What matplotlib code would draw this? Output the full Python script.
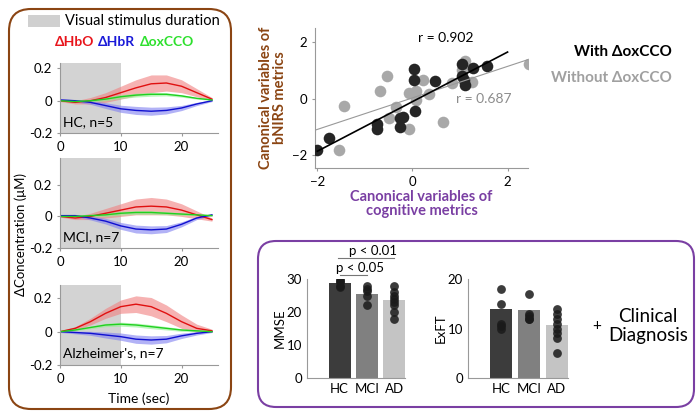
import matplotlib
matplotlib.use('Agg')
import matplotlib.pyplot as plt
import numpy as np
from matplotlib.patches import FancyBboxPatch, Rectangle

plt.rcParams['font.family'] = ['Lato', 'DejaVu Sans']
plt.rcParams['font.size'] = 8

W, H = 700, 420
BROWN = '#8B4513'
PURPLE = '#7A3FA3'

# ---- hemodynamic responses (sampled every 2.5 s) ----
t = [0, 2.5, 5, 7.5, 10, 12.5, 15, 17.5, 20, 22.5, 25]
hc_hbo = [0, -0.01, 0, 0.02, 0.05, 0.08, 0.105, 0.11, 0.09, 0.05, 0.01]
hc_hbr = [0.005, 0, -0.01, -0.03, -0.05, -0.06, -0.065, -0.06, -0.045, -0.02, 0]
hc_cco = [0, -0.005, 0, 0.01, 0.025, 0.035, 0.04, 0.04, 0.03, 0.015, 0.005]
mci_hbo = [0, -0.01, 0, 0.02, 0.04, 0.06, 0.065, 0.06, 0.04, 0.01, -0.02]
mci_hbr = [0.005, 0.005, -0.01, -0.03, -0.06, -0.08, -0.085, -0.08, -0.05, -0.01, 0.01]
mci_cco = [0, 0, 0.005, 0.01, 0.02, 0.025, 0.025, 0.02, 0.015, 0.01, 0.005]
ad_hbo = [0, 0.02, 0.06, 0.11, 0.15, 0.165, 0.15, 0.11, 0.06, 0.02, 0.005]
ad_hbr = [0, -0.005, -0.01, -0.02, -0.03, -0.045, -0.05, -0.045, -0.025, -0.01, 0]
ad_cco = [0, 0.01, 0.025, 0.04, 0.045, 0.04, 0.03, 0.02, 0.01, 0.005, 0]
sem_hbo = [0.005, 0.01, 0.02, 0.03, 0.04, 0.05, 0.055, 0.05, 0.04, 0.025, 0.01]
sem_hbr = [0.005, 0.008, 0.012, 0.018, 0.022, 0.025, 0.025, 0.022, 0.016, 0.01, 0.005]
sem_cco = [0.003, 0.005, 0.008, 0.01, 0.012, 0.012, 0.012, 0.01, 0.008, 0.005, 0.003]
groups = ['HC, n=5', 'MCI, n=7', "Alzheimer's, n=7"]
stim_end = 10

# ---- canonical correlation scatter ----
with_x = [-2, -1.75, -0.74, -0.74, -0.26, -0.26, -0.2, 0.04, 0.04, 0.05, 0.48, 1.05, 1.05, 1.09, 1.1, 1.28, 1.56]
with_y = [-1.82, -1.38, -0.88, -1.06, -1.0, -0.67, -0.65, 1.06, 0.65, -0.44, 0.62, 1.21, 0.82, 0.65, 0.47, 1.09, 1.14]
without_x = [-1.54, -1.45, -0.53, -0.68, -0.5, -0.35, -0.07, -0.07, 0.07, 0.07, 0.23, 0.34, 0.65, 0.84, 1.1, 1.25, 2.46, 1.05]
without_y = [-1.8, -0.27, 0.79, 0.29, -0.68, -0.29, -1.08, 0.2, 0.29, -0.06, 0.67, 0.18, -0.82, 0.55, 1.35, 0.59, 1.21, 1.0]

# ---- clinical scores ----
cats = ['HC', 'MCI', 'AD']
mmse_mean = [28.8, 25.5, 23.7]
mmse_pts = [[30, 29.5, 29, 28, 27.5], [28, 27, 26.5, 25, 22], [28, 26, 25, 24, 23, 22, 20, 18]]
exft_mean = [13.9, 13.8, 10.8]
exft_pts = [[18, 15, 11, 10.5, 10], [17, 13, 12.5, 12, 12], [14, 13, 12, 11, 10, 9, 8, 5]]
bar_colors = ['#3c3c3c', '#808080', '#c4c4c4']

fig = plt.figure(figsize=(7, 4.2), dpi=100)


def ax_px(l, t_, r, b):
    return fig.add_axes([l / W, 1 - b / H, (r - l) / W, (b - t_) / H])


# overlay for boxes and labels
ov = fig.add_axes([0, 0, 1, 1], zorder=-1)
ov.set_xlim(0, W)
ov.set_ylim(H, 0)
ov.axis('off')
ov.add_patch(FancyBboxPatch((9, 9), 222, 400, boxstyle='round,pad=0,rounding_size=22',
                            fc='white', ec=BROWN, lw=1.5))
ov.add_patch(FancyBboxPatch((258, 241), 436, 166, boxstyle='round,pad=0,rounding_size=18',
                            fc='white', ec=PURPLE, lw=1.5))
ov.add_patch(Rectangle((28, 15), 32, 12, fc='#d0d0d0', ec='none'))
ov.text(65, 21, 'Visual stimulus duration', fontsize=10.5, va='center')
ov.text(55, 42, 'ΔHbO', color='#e8141b', fontsize=10, fontweight='bold', va='center')
ov.text(98, 42, 'ΔHbR', color='#1a1ad8', fontsize=10, fontweight='bold', va='center')
ov.text(140, 42, 'ΔoxCCO', color='#2ee02e', fontsize=10, fontweight='bold', va='center')
ov.text(21, 235, 'ΔConcentration (μM)', rotation=90, fontsize=9.5, ha='center', va='center')
ov.text(139, 399, 'Time (sec)', fontsize=10, ha='center', va='center')

panels = [(63, 133, 0.234, hc_hbo, hc_hbr, hc_cco),
          (158, 248, 0.37, mci_hbo, mci_hbr, mci_cco),
          (285, 365, 0.28, ad_hbo, ad_hbr, ad_cco)]
for (top, bot, ytop, hbo, hbr, cco), name in zip(panels, groups):
    ax = ax_px(60, top, 218, bot)
    ax.axvspan(0, stim_end, color='#d3d3d3', lw=0)
    for m, s, c, fc in [(hbo, sem_hbo, '#e01010', '#f08080'),
                        (hbr, sem_hbr, '#1010d0', '#8080f0'),
                        (cco, sem_cco, '#20d020', '#90f090')]:
        m = np.array(m)
        s = np.array(s)
        ax.fill_between(t, m - s, m + s, color=fc, alpha=0.6, lw=0)
        ax.plot(t, m, color=c, lw=1)
    ax.set_xlim(0, 26)
    ax.set_ylim(-0.2, ytop)
    ax.set_yticks([-0.2, 0, 0.2])
    ax.set_yticklabels(['-0.2', '0', '0.2'])
    ax.set_xticks([0, 10, 20])
    for sp in ['top', 'right']:
        ax.spines[sp].set_visible(False)
    for sp in ['left', 'bottom']:
        ax.spines[sp].set_color('#999999')
    ax.tick_params(labelsize=9.5, length=2, color='#999999')
    ax.text(0.5, -0.13, name, fontsize=10, va='center')
    ax.patch.set_alpha(0)

# scatter
sc = ax_px(315, 28, 528, 168)
sc.scatter(without_x, without_y, s=70, color='#a8a8a8', zorder=2, lw=0)
sc.scatter(with_x, with_y, s=70, color='#252525', zorder=3, lw=0)
xx = np.array([-2.05, 2.43])
k, b0 = np.polyfit(without_x, without_y, 1)
sc.plot(xx, k * xx + b0, color='#999999', lw=0.8, zorder=4)
xx = np.array([-2.0, 2.0])
k, b0 = np.polyfit(with_x, with_y, 1)
sc.plot(xx, k * xx + b0, color='black', lw=1.2, zorder=4)
sc.text(0.7, 2.14, 'r = 0.902', fontsize=10, ha='center', va='center')
sc.text(1.5, -0.02, 'r = 0.687', fontsize=10, color='#8c8c8c', ha='center', va='center')
sc.set_xlim(-2.05, 2.43)
sc.set_ylim(-2.45, 2.5)
sc.set_xticks([-2, 0, 2])
sc.set_yticks([-2, 0, 2])
for sp in ['top', 'right']:
    sc.spines[sp].set_visible(False)
for sp in ['left', 'bottom']:
    sc.spines[sp].set_color('#999999')
sc.tick_params(labelsize=9.5, length=2, color='#999999')
sc.set_xlabel('Canonical variables of\ncognitive metrics', color=PURPLE, fontweight='bold',
              fontsize=10.5, linespacing=1.0, labelpad=2)
sc.set_ylabel('Canonical variables of\nbNIRS metrics', color=BROWN, fontweight='bold',
              fontsize=10.5, linespacing=1.0, labelpad=4)
ov.text(672, 52, 'With ΔoxCCO', fontsize=11, fontweight='bold', ha='right', va='center')
ov.text(672, 78, 'Without ΔoxCCO', fontsize=11, fontweight='bold', color='#a0a0a0',
        ha='right', va='center')

# bars
x = np.arange(len(cats))
for (l, r), means, pts, ylab, ymax, ticks in [((307, 405), mmse_mean, mmse_pts, 'MMSE', 30, [0, 10, 20, 30]),
                                               ((468, 568), exft_mean, exft_pts, 'ExFT', 20, [0, 10, 20])]:
    bx = ax_px(l, 279, r, 378)
    bx.bar(x, means, width=0.8, color=bar_colors)
    for i, p in enumerate(pts):
        bx.scatter([i] * len(p), p, s=40, color='#1a1a1a', zorder=3, lw=0, alpha=0.85)
    bx.set_xlim(-1.2, 2.4)
    bx.set_ylim(0, ymax)
    bx.set_yticks(ticks)
    bx.set_xticks(x)
    bx.set_xticklabels(cats)
    for sp in ['top', 'right']:
        bx.spines[sp].set_visible(False)
    for sp in ['left', 'bottom']:
        bx.spines[sp].set_color('#999999')
    bx.tick_params(labelsize=9.5, length=0, color='#999999')
    bx.set_ylabel(ylab, fontsize=9.5, labelpad=1)
    bx.patch.set_alpha(0)
    if ylab == 'MMSE':
        bx.plot([0, 1], [31.3, 31.3], color='#777777', lw=0.8, clip_on=False)
        bx.text(-0.15, 31.5, 'p < 0.05', fontsize=9.5, va='bottom')
        bx.plot([-0.05, 2], [36.4, 36.4], color='#777777', lw=0.8, clip_on=False)
        bx.text(0.35, 36.6, 'p < 0.01', fontsize=9.5, va='bottom')

ov.text(597, 326, '+', fontsize=11, ha='center', va='center')
ov.text(648, 326, 'Clinical\nDiagnosis', fontsize=13.5, ha='center', va='center', linespacing=1.1)

fig.savefig('out.png', dpi=100)
